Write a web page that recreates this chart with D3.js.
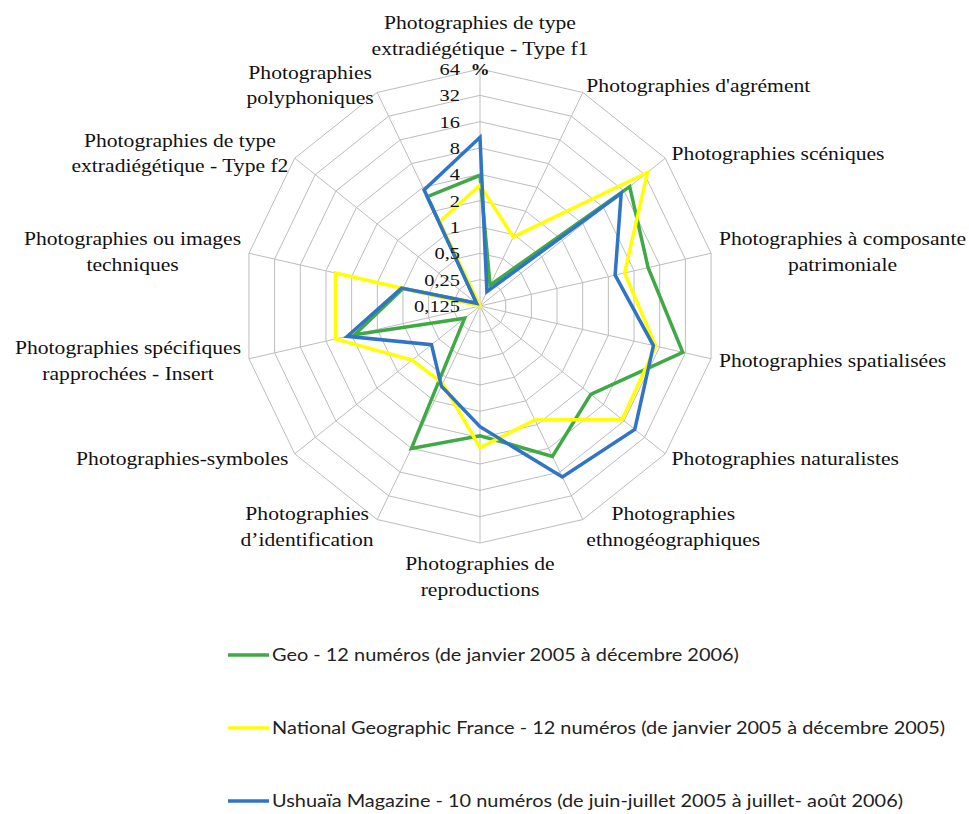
<!DOCTYPE html>
<html>
<head>
<meta charset="utf-8">
<script src="https://cdn.jsdelivr.net/npm/d3@7"></script>
<style>
  body { margin: 0; background: #fff; }
</style>
</head>
<body>
<div id="chart"></div>
<script>
// categories, clockwise from the top
const categories = [
  ['Photographies de type', 'extradiégétique - Type f1'],
  ["Photographies d'agrément"],
  ['Photographies scéniques'],
  ['Photographies à composante', 'patrimoniale'],
  ['Photographies spatialisées'],
  ['Photographies naturalistes'],
  ['Photographies', 'ethnogéographiques'],
  ['Photographies de', 'reproductions'],
  ['Photographies', 'd’identification'],
  ['Photographies-symboles'],
  ['Photographies spécifiques', 'rapprochées - Insert'],
  ['Photographies ou images', 'techniques'],
  ['Photographies de type', 'extradiégétique - Type f2'],
  ['Photographies', 'polyphoniques']
];

// values in %
const geo     = [3.9, 0.23, 19.3, 11.7, 29.8, 5.2, 10.1, 3.8, 8.0, 0.21, 3.7, 1.0, 0.14, 3.05];
const natGeo  = [3.0, 0.94, 35, 6.2, 14.4, 15.0, 3.5, 5.2, 1.2, 1.23, 6.2, 6.2, 0.125, 1.46];
const ushuaia = [10.6, 0.19, 14.5, 4.8, 13.5, 22.9, 18.5, 3.0, 1.3, 0.64, 4.5, 1.04, 0.14, 3.72];

const tickValues = [0.125, 0.25, 0.5, 1, 2, 4, 8, 16, 32, 64];
const tickLabels = ['0,125', '0,25', '0,5', '1', '2', '4', '8', '16', '32', '64'];

const seriesNames = [
  'Geo - 12 numéros (de janvier 2005 à décembre 2006)',
  'National Geographic France - 12 numéros (de janvier 2005 à décembre 2005)',
  'Ushuaïa Magazine - 10 numéros (de juin-juillet 2005 à juillet- août 2006)'
];
const seriesColors = ['#3fa945', '#ffff00', '#2f74c6'];
const series = [geo, natGeo, ushuaia];

const width = 969, height = 814;
const cx = 480, cy = 306, R = 237;
const stretch = 1.2; // the source picture is a bit wider than tall
const serifFont = 'Liberation Serif';

const svg = d3.select('#chart')
  .append('svg')
  .attr('width', width)
  .attr('height', height);

const r = d3.scaleLog().base(2)
  .domain([tickValues[0], tickValues[tickValues.length - 1]])
  .range([0, R])
  .clamp(true);

const angle = d3.scaleLinear()
  .domain([0, categories.length])
  .range([0, 2 * Math.PI]);

const plot = svg.append('g').attr('transform', `translate(${cx},${cy})`);

const ring = d3.lineRadial()
  .angle((d, i) => angle(i))
  .radius(d => r(d))
  .curve(d3.curveLinearClosed);

// grid rings
plot.selectAll('.ring')
  .data(tickValues.slice(1))
  .enter()
  .append('path')
  .attr('class', 'ring')
  .attr('d', v => ring(categories.map(() => v)))
  .attr('fill', 'none')
  .attr('stroke', '#bdbdbd')
  .attr('stroke-width', 1);

// spokes
plot.selectAll('.spoke')
  .data(categories)
  .enter()
  .append('line')
  .attr('class', 'spoke')
  .attr('x1', 0).attr('y1', 0)
  .attr('x2', (d, i) => r(64) * Math.sin(angle(i)))
  .attr('y2', (d, i) => -r(64) * Math.cos(angle(i)))
  .attr('stroke', '#bdbdbd')
  .attr('stroke-width', 1);

// series lines
plot.selectAll('.series')
  .data(series)
  .enter()
  .append('path')
  .attr('class', 'series')
  .attr('d', d => ring(d))
  .attr('fill', 'none')
  .attr('stroke', (d, i) => seriesColors[i])
  .attr('stroke-width', 3.5)
  .attr('stroke-linejoin', 'miter');

// tick labels
tickValues.forEach((v, i) => {
  plot.append('text')
    .attr('transform', `translate(-20,${-r(v)}) scale(${stretch},1)`)
    .attr('text-anchor', 'end')
    .attr('dy', '0.35em')
    .attr('font-family', serifFont)
    .attr('font-size', 17)
    .attr('fill', '#111')
    .text(tickLabels[i]);
});

plot.append('text')
  .attr('transform', `translate(0,${-r(64)}) scale(${stretch},1)`)
  .attr('text-anchor', 'middle')
  .attr('dy', '0.35em')
  .attr('font-family', serifFont)
  .attr('font-size', 16)
  .attr('font-weight', 'bold')
  .attr('fill', '#111')
  .text('%');

// category labels
const labelPad = 8, lineH = 25.5;
categories.forEach((lines, i) => {
  const a = angle(i), s = Math.sin(a), c = Math.cos(a);
  const px = (R + labelPad) * s, py = -(R + labelPad) * c;
  const t = plot.append('text')
    .attr('text-anchor', 'middle')
    .attr('font-family', serifFont)
    .attr('font-size', 18)
    .attr('fill', '#111');
  lines.forEach((l, k) => {
    t.append('tspan')
      .attr('x', 0)
      .attr('y', (k - (lines.length - 1) / 2) * lineH)
      .attr('dy', '0.35em')
      .text(l);
  });
  const w = t.node().getBBox().width * stretch;
  const h = lines.length * lineH;
  let gx, gy;
  if (Math.abs(s) < 0.1) {
    gx = px;
    gy = c > 0 ? py - h / 2 : py + h / 2;
  } else {
    gx = s > 0 ? px + w / 2 : px - w / 2;
    gy = py;
  }
  t.attr('transform', `translate(${gx},${gy}) scale(${stretch},1)`);
});

// legend
const legend = svg.append('g');
seriesNames.forEach((name, i) => {
  const y = 655 + i * 73;
  legend.append('line')
    .attr('x1', 228).attr('x2', 269)
    .attr('y1', y).attr('y2', y)
    .attr('stroke', seriesColors[i])
    .attr('stroke-width', 3.5);
  legend.append('text')
    .attr('transform', `translate(272,${y}) scale(${stretch},1)`)
    .attr('dy', '0.35em')
    .attr('font-family', 'Lato')
    .attr('font-size', 16.6)
    .attr('fill', '#222')
    .text(name);
});
</script>
</body>
</html>
